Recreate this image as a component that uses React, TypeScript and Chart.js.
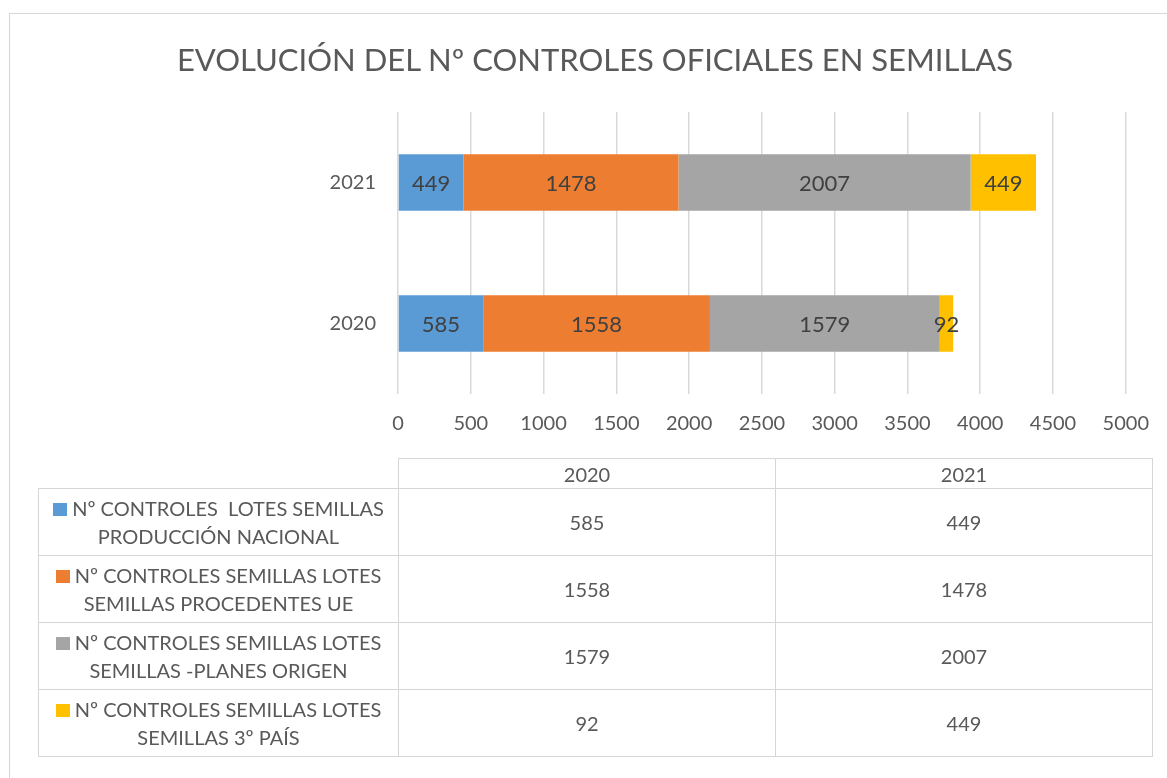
import React, { useEffect, useRef } from "react";
import { Chart, registerables } from "chart.js";

Chart.register(...registerables);

const chartTitle = "EVOLUCIÓN DEL Nº CONTROLES OFICIALES EN SEMILLAS";
const years = ["2020", "2021"];
const seriesNames = [
  "Nº CONTROLES  LOTES SEMILLAS\nPRODUCCIÓN NACIONAL",
  "Nº CONTROLES SEMILLAS LOTES\nSEMILLAS PROCEDENTES UE",
  "Nº CONTROLES SEMILLAS LOTES\nSEMILLAS -PLANES ORIGEN",
  "Nº CONTROLES SEMILLAS LOTES\nSEMILLAS 3º PAÍS",
];
const produccionNacional = [585, 449];
const procedentesUE = [1558, 1478];
const planesOrigen = [1579, 2007];
const tercerPais = [92, 449];
const seriesColors = ["#5B9BD5", "#ED7D31", "#A5A5A5", "#FFC000"];
const axisMax = 5000;
const axisStep = 500;

const seriesValues = [produccionNacional, procedentesUE, planesOrigen, tercerPais];

const FONT = "Lato, 'Open Sans', sans-serif";
const TEXT = "#595959";
const BORDER = "#d6d6d6";

const dataLabelPlugin = {
  id: "dataLabels",
  afterDatasetsDraw(chart: any) {
    const ctx = chart.ctx;
    ctx.save();
    ctx.font = `22px ${FONT}`;
    ctx.fillStyle = "#404040";
    ctx.textAlign = "center";
    ctx.textBaseline = "middle";
    chart.data.datasets.forEach((ds: any, di: number) => {
      const meta = chart.getDatasetMeta(di);
      meta.data.forEach((el: any, i: number) => {
        const cx = (el.x + el.base) / 2;
        ctx.fillText(String(ds.data[i]), cx, el.y + 1);
      });
    });
    ctx.restore();
  },
};

export default function App() {
  const ref = useRef<HTMLCanvasElement>(null);
  useEffect(() => {
    if (!ref.current) return;
    const chart = new Chart(ref.current, {
      type: "bar",
      data: {
        labels: years,
        datasets: seriesValues.map((vals, i) => ({
          label: seriesNames[i],
          data: vals,
          backgroundColor: seriesColors[i],
          borderWidth: 0,
          barPercentage: 0.4,
          categoryPercentage: 1,
        })),
      },
      options: {
        indexAxis: "y",
        animation: false,
        responsive: false,
        devicePixelRatio: 1,
        layout: { padding: { top: 112, left: 0, right: 37, bottom: 0 } },
        plugins: { legend: { display: false }, title: { display: false }, tooltip: { enabled: false } },
        scales: {
          x: {
            stacked: true,
            min: 0,
            max: axisMax,
            ticks: {
              stepSize: axisStep,
              color: TEXT,
              font: { family: FONT, size: 20 },
              padding: 18,
              callback: (v: any) => String(v),
            },
            grid: { color: "#d9d9d9", lineWidth: 1.5, drawTicks: false },
            border: { display: false },
            afterFit: (s: any) => { s.height = 778 - 394; },
          },
          y: {
            stacked: true,
            reverse: true,
            ticks: { color: TEXT, font: { family: FONT, size: 20 }, padding: 22 },
            grid: { display: false, drawTicks: false },
            border: { display: false },
            afterFit: (s: any) => { s.width = 398; },
          },
        },
      },
      plugins: [dataLabelPlugin],
    } as any);
    return () => chart.destroy();
  }, []);

  const cellBorder = `1.5px solid ${BORDER}`;
  return (
    <div style={{ position: "absolute", left: 0, top: 0, width: 1167, height: 778, overflow: "hidden", background: "#fff", fontFamily: FONT }}>
      <div style={{ position: "absolute", left: 9, top: 13, width: 1200, height: 800, border: `1.5px solid ${BORDER}`, boxSizing: "border-box" }} />
      <canvas ref={ref} width={1167} height={778} style={{ position: "absolute", left: 0, top: 0 }} />
      <div style={{ position: "absolute", left: 0, top: 37, width: 1190, textAlign: "center", fontSize: 31, fontWeight: 400, color: TEXT, lineHeight: "44px" }}>
        {chartTitle}
      </div>
      <table style={{ position: "absolute", left: 38, top: 458, borderCollapse: "collapse", color: TEXT, fontSize: 20, tableLayout: "fixed" }}>
        <colgroup>
          <col style={{ width: 360 }} />
          <col style={{ width: 377 }} />
          <col style={{ width: 377 }} />
        </colgroup>
        <tbody>
          <tr style={{ height: 30 }}>
            <td style={{ border: "none", padding: 0 }} />
            {years.map((y) => (
              <td key={y} style={{ border: cellBorder, textAlign: "center", padding: 0 }}>{y}</td>
            ))}
          </tr>
          {seriesNames.map((name, i) => {
            const lines = name.split("\n");
            return (
              <tr key={i} style={{ height: 67 }}>
                <td style={{ border: cellBorder, textAlign: "center", padding: 0, lineHeight: "28px", whiteSpace: "pre" }}>
                  <span style={{ display: "inline-block", width: 14, height: 13, background: seriesColors[i], marginRight: 5 }} />
                  {lines[0]}
                  <br />
                  {lines[1]}
                </td>
                {years.map((y, j) => (
                  <td key={y} style={{ border: cellBorder, textAlign: "center", padding: 0 }}>{seriesValues[i][j]}</td>
                ))}
              </tr>
            );
          })}
        </tbody>
      </table>
    </div>
  );
}
